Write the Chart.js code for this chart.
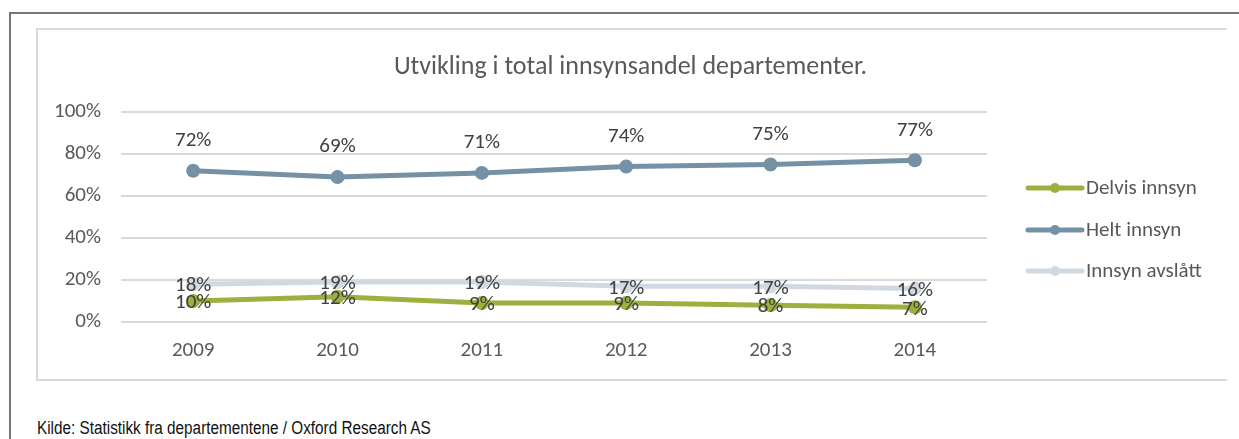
<!DOCTYPE html>
<html>
<head>
<meta charset="utf-8">
<script src="https://cdn.jsdelivr.net/npm/chart.js@4.4.1/dist/chart.umd.min.js"></script>
<style>
  body { margin: 0; background: #fff; width: 1239px; height: 439px; overflow: hidden; position: relative; }
  #frame { position: absolute; left: 9px; top: 12px; width: 1229px; height: 440px; border-top: 2px solid #767676; border-left: 2px solid #767676; }
  #box { position: absolute; left: 36px; top: 28px; width: 1189px; height: 349px; border: 2px solid #d9d9d9; border-right: none; }
  #title { position: absolute; left: 37px; width: 1187px; top: 49px; text-align: center; font-family: Carlito, Lato, sans-serif; font-size: 26px; color: #595959; }
  #source { position: absolute; left: 37px; top: 418px; font-family: "Liberation Sans Narrow", "Arial Narrow", "Liberation Sans", sans-serif; font-size: 18px; color: #111; white-space: nowrap; transform-origin: 0 0; transform: scaleX(0.85); }
  #wrap { position: absolute; left: 37px; top: 29px; width: 1187px; height: 348px; }
</style>
</head>
<body>
<div id="frame"></div>
<div id="box"></div>
<div id="wrap"><canvas id="innsynChart"></canvas></div>
<div id="title">Utvikling i total innsynsandel departementer.</div>
<div id="source">Kilde: Statistikk fra departementene / Oxford Research AS</div>
<script>
const years = ['2009', '2010', '2011', '2012', '2013', '2014'];
const delvisInnsyn = [10, 12, 9, 9, 8, 7];
const heltInnsyn = [72, 69, 71, 74, 75, 77];
const innsynAvslatt = [18, 19, 19, 17, 17, 16];
const yTicks = [0, 20, 40, 60, 80, 100];

const FONT = 'Carlito, Lato, sans-serif';

// value labels: helt above the point, the two low series centred on it
const valueLabels = {
  id: 'valueLabels',
  afterDatasetsDraw(chart) {
    const ctx = chart.ctx;
    ctx.save();
    ctx.font = '21px ' + FONT;
    ctx.fillStyle = '#404040';
    ctx.textAlign = 'center';
    ctx.textBaseline = 'middle';
    chart.data.datasets.forEach((ds, i) => {
      const meta = chart.getDatasetMeta(i);
      meta.data.forEach((pt, j) => {
        const dy = ds.labelAbove ? -30 : 2;
        ctx.fillText(ds.data[j] + '%', pt.x, pt.y + dy);
      });
    });
    ctx.restore();
  }
};

const sideLegend = {
  id: 'sideLegend',
  afterDraw(chart) {
    const ctx = chart.ctx;
    const x0 = chart.chartArea.right + 41;
    const rows = [159, 201, 242];
    ctx.save();
    chart.data.datasets.forEach((ds, i) => {
      const y = rows[i];
      ctx.strokeStyle = ds.borderColor;
      ctx.lineWidth = 5;
      ctx.lineCap = 'round';
      ctx.beginPath();
      ctx.moveTo(x0, y);
      ctx.lineTo(x0 + 54, y);
      ctx.stroke();
      ctx.fillStyle = ds.borderColor;
      ctx.beginPath();
      ctx.arc(x0 + 27, y, 5, 0, Math.PI * 2);
      ctx.fill();
      ctx.fillStyle = '#595959';
      ctx.font = '21px ' + FONT;
      ctx.textBaseline = 'middle';
      ctx.fillText(ds.label, x0 + 58, y + 1);
    });
    ctx.restore();
  }
};

function makeSeries(label, data, color, above) {
  return {
    label: label,
    data: data,
    borderColor: color,
    backgroundColor: color,
    borderWidth: 5,
    pointRadius: 7,
    pointHoverRadius: 7,
    pointBorderWidth: 0,
    tension: 0,
    labelAbove: above
  };
}

new Chart(document.getElementById('innsynChart'), {
  type: 'line',
  data: {
    labels: years,
    datasets: [
      makeSeries('Delvis innsyn', delvisInnsyn, '#9bb13f', false),
      makeSeries('Helt innsyn', heltInnsyn, '#7491a5', true),
      makeSeries('Innsyn avslått', innsynAvslatt, '#d0d9e1', false)
    ]
  },
  options: {
    responsive: true,
    maintainAspectRatio: false,
    animation: false,
    layout: { padding: { left: 0, right: 237, top: 83, bottom: 0 } },
    plugins: { legend: { display: false }, tooltip: { enabled: false } },
    scales: {
      x: {
        offset: true,
        grid: { display: false },
        border: { display: false },
        ticks: { padding: 8, color: '#595959', font: { family: FONT, size: 21 } },
        afterFit(scale) { scale.height = 55; }
      },
      y: {
        min: 0,
        max: 100,
        afterBuildTicks(scale) { scale.ticks = yTicks.map(v => ({ value: v })); },
        grid: { color: '#d9d9d9', lineWidth: 2, drawTicks: false },
        border: { display: false },
        ticks: { padding: 20, color: '#595959', font: { family: FONT, size: 21 }, callback: v => v + '%' },
        afterFit(scale) { scale.width = 84; }
      }
    }
  },
  plugins: [valueLabels, sideLegend]
});
</script>
</body>
</html>
